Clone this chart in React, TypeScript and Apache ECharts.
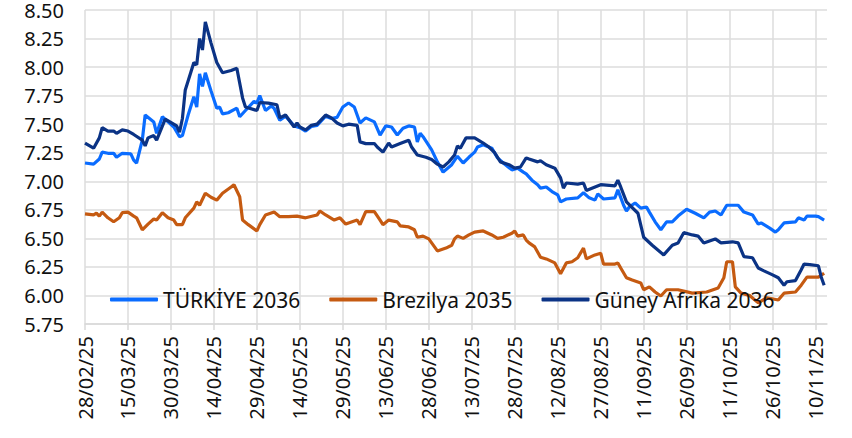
import React, { useEffect, useRef } from "react";
import * as echarts from "echarts";

// x = days since 28/02/25
const seriesNames = ["TÜRKİYE 2036", "Brezilya 2035", "Güney Afrika 2036"];
const seriesColors = ["#0a6cff", "#c55a11", "#0b3385"];

const turkiye: [number, number][] = [
  [0, 7.16], [3, 7.15], [5, 7.195], [6, 7.255], [8, 7.245], [10, 7.245], [11, 7.21], [13, 7.245],
  [16, 7.24], [17, 7.185], [18, 7.16], [20, 7.36], [21, 7.58], [24, 7.52], [25, 7.42], [27, 7.565],
  [29, 7.52], [31, 7.475], [33, 7.39], [34, 7.4], [36, 7.58], [38, 7.74], [39, 7.65], [40, 7.94],
  [41, 7.83], [42, 7.95], [43, 7.87], [44, 7.79], [46, 7.64], [47, 7.65], [48, 7.59], [50, 7.6],
  [53, 7.64], [54, 7.565], [56, 7.62], [59, 7.7], [60, 7.685], [61, 7.75], [63, 7.62], [65, 7.66],
  [66, 7.64], [68, 7.535], [70, 7.57], [73, 7.485], [75, 7.47], [77, 7.44], [79, 7.48], [81, 7.49],
  [84, 7.57], [86, 7.55], [88, 7.56], [90, 7.65], [92, 7.685], [94, 7.65], [96, 7.51], [98, 7.555],
  [101, 7.52], [103, 7.405], [105, 7.485], [107, 7.475], [109, 7.405], [111, 7.465], [113, 7.485],
  [115, 7.475], [116, 7.345], [117, 7.42], [118, 7.39], [121, 7.275], [123, 7.17], [125, 7.08],
  [128, 7.145], [130, 7.22], [132, 7.16], [134, 7.21], [136, 7.255], [137, 7.3], [139, 7.32],
  [142, 7.29], [144, 7.205], [146, 7.16], [149, 7.1], [151, 7.115], [153, 7.08], [154, 7.065],
  [156, 7.01], [158, 6.97], [159, 6.94], [161, 6.95], [163, 6.91], [165, 6.88], [166, 6.82],
  [168, 6.845], [172, 6.855], [174, 6.9], [176, 6.855], [178, 6.835], [179, 6.89], [181, 6.845],
  [185, 6.855], [186, 6.925], [188, 6.79], [189, 6.74], [190, 6.775], [192, 6.81], [194, 6.765],
  [196, 6.775], [197, 6.73], [199, 6.645], [201, 6.575], [203, 6.645], [205, 6.645], [207, 6.695],
  [210, 6.755], [213, 6.72], [216, 6.68], [218, 6.73], [220, 6.74], [222, 6.705], [224, 6.79],
  [228, 6.79], [230, 6.73], [233, 6.705], [235, 6.625], [236, 6.635], [239, 6.59], [241, 6.555],
  [242, 6.575], [244, 6.635], [248, 6.645], [249, 6.68], [251, 6.66], [252, 6.695], [255, 6.695],
  [256, 6.69], [258, 6.66],
];

const brezilya: [number, number][] = [
  [0, 6.715], [3, 6.705], [4, 6.72], [5, 6.695], [6, 6.73], [8, 6.68], [10, 6.645], [12, 6.68],
  [13, 6.725], [15, 6.73], [17, 6.695], [18, 6.68], [20, 6.575], [22, 6.625], [24, 6.67], [25, 6.66],
  [27, 6.725], [29, 6.68], [31, 6.66], [32, 6.62], [34, 6.62], [35, 6.68], [38, 6.765], [39, 6.82],
  [40, 6.79], [42, 6.895], [44, 6.86], [46, 6.835], [48, 6.895], [51, 6.95], [52, 6.97], [54, 6.865],
  [55, 6.66], [57, 6.62], [60, 6.565], [61, 6.62], [63, 6.705], [66, 6.73], [68, 6.69], [71, 6.69],
  [74, 6.695], [77, 6.68], [81, 6.705], [82, 6.74], [84, 6.705], [87, 6.66], [89, 6.68], [91, 6.625],
  [92, 6.635], [95, 6.66], [96, 6.62], [98, 6.735], [101, 6.735], [103, 6.66], [104, 6.62],
  [106, 6.66], [109, 6.645], [110, 6.61], [113, 6.6], [115, 6.575], [116, 6.51], [118, 6.52],
  [120, 6.495], [121, 6.46], [123, 6.39], [126, 6.415], [128, 6.44], [129, 6.495], [130, 6.52],
  [132, 6.5], [134, 6.53], [136, 6.555], [139, 6.565], [142, 6.53], [144, 6.5], [146, 6.51],
  [149, 6.545], [150, 6.565], [151, 6.52], [153, 6.53], [154, 6.485], [155, 6.46], [157, 6.425],
  [159, 6.335], [161, 6.32], [164, 6.285], [166, 6.19], [168, 6.285], [170, 6.295], [172, 6.33],
  [174, 6.415], [175, 6.32], [178, 6.355], [180, 6.37], [181, 6.275], [185, 6.275], [186, 6.285],
  [187, 6.24], [189, 6.155], [191, 6.135], [194, 6.11], [195, 6.05], [197, 6.075], [199, 6.03],
  [201, 5.995], [203, 6.05], [207, 6.05], [212, 6.02], [217, 6.03], [221, 6.065], [223, 6.155],
  [224, 6.295], [226, 6.295], [227, 6.075], [229, 6.02], [232, 6.0], [235, 5.935], [238, 5.98],
  [242, 5.96], [244, 6.02], [248, 6.03], [250, 6.09], [252, 6.16], [256, 6.16], [258, 6.195],
];

const guneyAfrika: [number, number][] = [
  [0, 7.335], [3, 7.29], [5, 7.38], [6, 7.47], [8, 7.44], [10, 7.44], [11, 7.42], [13, 7.45],
  [15, 7.44], [17, 7.41], [20, 7.36], [21, 7.31], [22, 7.38], [24, 7.4], [25, 7.36], [28, 7.545],
  [32, 7.485], [33, 7.43], [34, 7.55], [35, 7.8], [37, 7.96], [38, 8.04], [39, 8.02], [40, 8.25],
  [41, 8.15], [42, 8.395], [44, 8.21], [46, 8.04], [48, 7.95], [51, 7.97], [53, 7.99], [55, 7.73],
  [56, 7.65], [60, 7.62], [61, 7.69], [64, 7.685], [67, 7.67], [68, 7.555], [70, 7.58], [73, 7.475],
  [74, 7.51], [75, 7.475], [77, 7.45], [79, 7.49], [81, 7.5], [84, 7.58], [86, 7.555], [88, 7.51],
  [90, 7.485], [92, 7.5], [95, 7.49], [96, 7.345], [98, 7.33], [101, 7.33], [102, 7.3], [104, 7.255],
  [106, 7.335], [107, 7.3], [110, 7.33], [113, 7.36], [114, 7.3], [116, 7.23], [119, 7.21],
  [121, 7.19], [123, 7.15], [125, 7.125], [127, 7.17], [129, 7.23], [130, 7.31], [131, 7.29],
  [133, 7.38], [136, 7.38], [139, 7.335], [141, 7.3], [143, 7.25], [145, 7.17], [148, 7.145],
  [150, 7.115], [152, 7.125], [154, 7.205], [155, 7.195], [158, 7.17], [159, 7.18], [161, 7.145],
  [164, 7.115], [166, 7.03], [167, 6.94], [168, 6.985], [172, 6.975], [174, 6.985], [175, 6.92],
  [180, 6.97], [185, 6.96], [186, 7.01], [187, 6.95], [189, 6.82], [193, 6.72], [195, 6.51],
  [198, 6.44], [202, 6.355], [205, 6.44], [207, 6.46], [209, 6.55], [212, 6.53], [214, 6.52],
  [216, 6.46], [220, 6.495], [222, 6.46], [226, 6.47], [228, 6.46], [230, 6.34], [233, 6.33],
  [235, 6.24], [237, 6.215], [240, 6.18], [242, 6.155], [244, 6.09], [245, 6.12], [248, 6.13],
  [250, 6.225], [251, 6.275], [253, 6.27], [256, 6.26], [257, 6.16], [258, 6.09],
];

const xMin = 0;
const xMax = 259;
const xInterval = 15;
const yMin = 5.75;
const yMax = 8.5;
const yInterval = 0.25;

const FONT = "'Noto Sans', 'DejaVu Sans', sans-serif";

function dayLabel(d: number): string {
  const dt = new Date(2025, 1, 28 + Math.round(d));
  const dd = String(dt.getDate()).padStart(2, "0");
  const mm = String(dt.getMonth() + 1).padStart(2, "0");
  const yy = String(dt.getFullYear() % 100).padStart(2, "0");
  return `${dd}/${mm}/${yy}`;
}

export default function App() {
  const ref = useRef<HTMLDivElement>(null);
  useEffect(() => {
    if (!ref.current) return;
    const chart = echarts.init(ref.current, undefined, { renderer: "svg" });
    const allData = [turkiye, brezilya, guneyAfrika];
    chart.setOption({
      animation: false,
      backgroundColor: "#ffffff",
      grid: { left: 85, right: 25, top: 10, bottom: 114, containLabel: false },
      legend: {
        data: seriesNames,
        left: 105,
        top: 284,
        itemWidth: 48,
        itemHeight: 4,
        itemGap: 29,
        icon: "roundRect",
        textStyle: { fontFamily: FONT, fontSize: 21, color: "#111" },
      },
      xAxis: {
        type: "value",
        min: xMin,
        max: xMax,
        interval: xInterval,
        axisLine: { show: true, lineStyle: { color: "#d9d9d9", width: 1.5 } },
        axisTick: { show: true, length: 6, lineStyle: { color: "#d9d9d9", width: 1.5 } },
        splitLine: { show: true, showMaxLine: false, lineStyle: { color: "#dcdcdc", width: 1.5 } },
        axisLabel: {
          rotate: 90,
          margin: 12,
          showMaxLabel: false,
          fontFamily: FONT,
          fontSize: 20,
          color: "#111",
          formatter: (v: number) => (v % xInterval === 0 ? dayLabel(v) : ""),
        },
      },
      yAxis: {
        type: "value",
        min: yMin,
        max: yMax,
        interval: yInterval,
        axisLine: { show: false },
        axisTick: { show: false },
        splitLine: { show: true, lineStyle: { color: "#dcdcdc", width: 1.5 } },
        axisLabel: {
          margin: 21,
          fontFamily: FONT,
          fontSize: 20,
          lineHeight: 18,
          color: "#111",
          formatter: (v: number) => v.toFixed(2),
        },
      },
      series: seriesNames.map((name, i) => ({
        name,
        type: "line",
        data: allData[i],
        showSymbol: false,
        symbol: "none",
        color: seriesColors[i],
        lineStyle: { color: seriesColors[i], width: 3.2 },
      })),
    });
    return () => chart.dispose();
  }, []);
  return <div ref={ref} style={{ width: 852, height: 438, position: "absolute", left: 0, top: 0 }} />;
}
